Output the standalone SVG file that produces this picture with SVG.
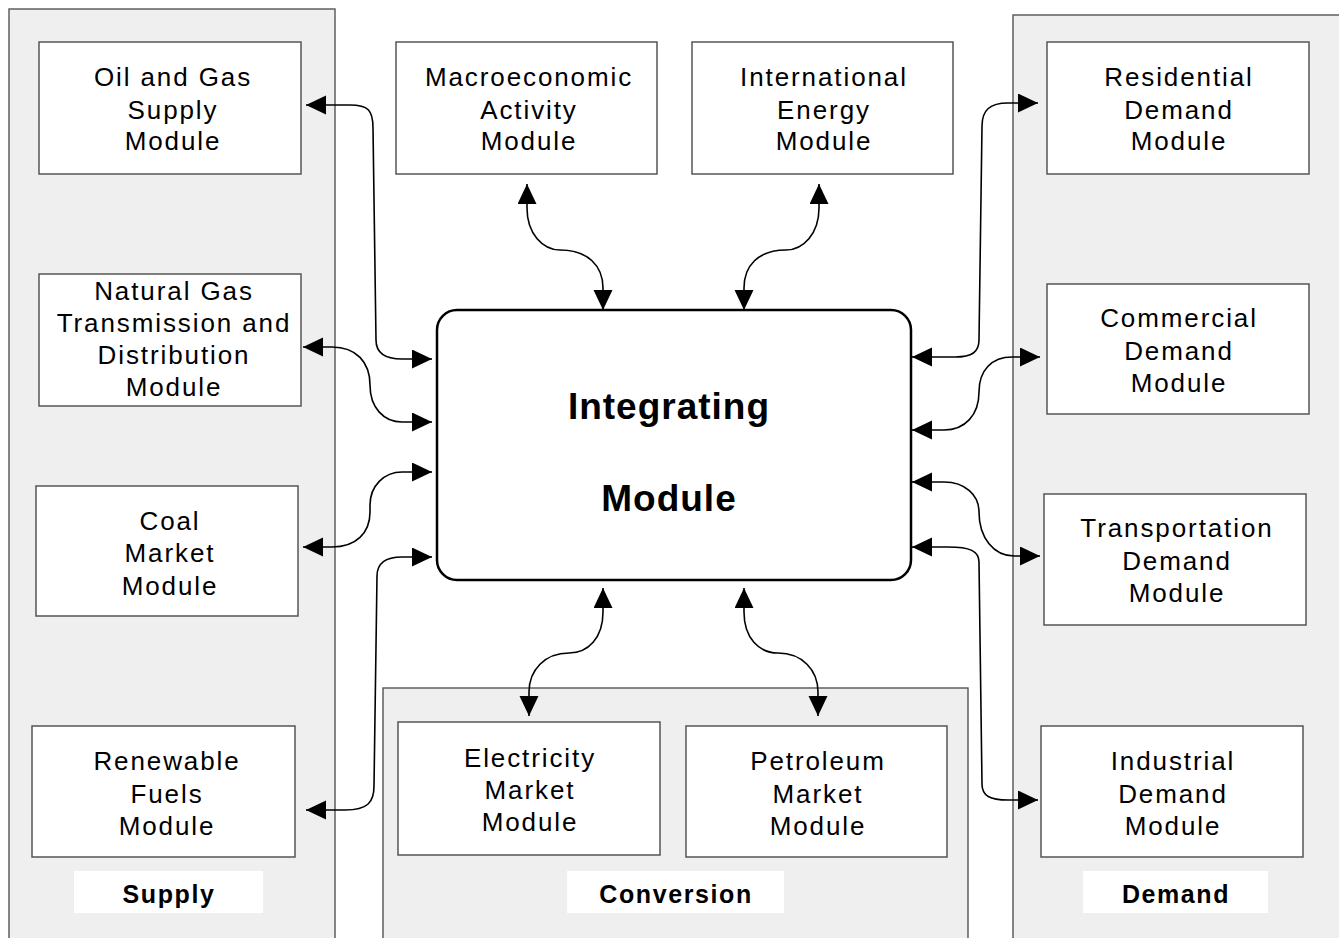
<svg xmlns="http://www.w3.org/2000/svg" width="1339" height="938" viewBox="0 0 1339 938">
  <style>
    .panel { fill: #efefef; stroke: #555; stroke-width: 1.4; }
    .box { fill: #fff; stroke: #555; stroke-width: 1.5; }
    .core { fill: #fff; stroke: #000; stroke-width: 2.5; }
    .tag { fill: #fff; stroke: none; }
    text { font-family: "Liberation Sans", Arial, sans-serif; fill: #000; text-anchor: middle; }
    .t { font-size: 26px; letter-spacing: 1.9px; }
    .lbl { font-size: 25px; font-weight: bold; letter-spacing: 1.6px; }
    .big { font-size: 37px; font-weight: bold; letter-spacing: 1px; }
    .link { fill: none; stroke: #000; stroke-width: 1.6; marker-start: url(#ah); marker-end: url(#ah); }
  </style>
  <defs>
    <marker id="ah" markerUnits="userSpaceOnUse" markerWidth="22" markerHeight="20" refX="21" refY="9.5" orient="auto-start-reverse">
      <path d="M1,0 L21,9.5 L1,19 z" fill="#000"/>
    </marker>
  </defs>

  <rect width="1339" height="938" fill="#fff"/>

  <!-- sector panels -->
  <g id="panel-supply">
    <rect class="panel" x="9" y="9" width="326" height="945"/>
    <rect class="tag" x="74" y="871" width="189" height="42"/>
    <text class="lbl" x="169" y="903">Supply</text>
  </g>
  <g id="panel-conversion">
    <rect class="panel" x="383" y="688" width="585" height="260"/>
    <rect class="tag" x="567" y="871" width="217" height="42"/>
    <text class="lbl" x="676" y="903">Conversion</text>
  </g>
  <g id="panel-demand">
    <rect class="panel" x="1013" y="15" width="330" height="940"/>
    <rect class="tag" x="1083" y="871" width="185" height="42"/>
    <text class="lbl" x="1176" y="903">Demand</text>
  </g>

  <!-- supply modules -->
  <g id="oil-gas">
    <rect class="box" x="39" y="42" width="262" height="132"/>
    <text class="t" x="173" y="86">Oil and Gas</text>
    <text class="t" x="173" y="119">Supply</text>
    <text class="t" x="173" y="150">Module</text>
  </g>
  <g id="natural-gas">
    <rect class="box" x="39" y="274" width="262" height="132"/>
    <text class="t" x="174" y="300">Natural Gas</text>
    <text class="t" x="174" y="332">Transmission and</text>
    <text class="t" x="174" y="364">Distribution</text>
    <text class="t" x="174" y="396">Module</text>
  </g>
  <g id="coal">
    <rect class="box" x="36" y="486" width="262" height="130"/>
    <text class="t" x="170" y="530">Coal</text>
    <text class="t" x="170" y="562">Market</text>
    <text class="t" x="170" y="595">Module</text>
  </g>
  <g id="renewable">
    <rect class="box" x="32" y="726" width="263" height="131"/>
    <text class="t" x="167" y="770">Renewable</text>
    <text class="t" x="167" y="803">Fuels</text>
    <text class="t" x="167" y="835">Module</text>
  </g>

  <!-- external modules -->
  <g id="macro">
    <rect class="box" x="396" y="42" width="261" height="132"/>
    <text class="t" x="529" y="86">Macroeconomic</text>
    <text class="t" x="529" y="119">Activity</text>
    <text class="t" x="529" y="150">Module</text>
  </g>
  <g id="international">
    <rect class="box" x="692" y="42" width="261" height="132"/>
    <text class="t" x="824" y="86">International</text>
    <text class="t" x="824" y="119">Energy</text>
    <text class="t" x="824" y="150">Module</text>
  </g>

  <!-- demand modules -->
  <g id="residential">
    <rect class="box" x="1047" y="42" width="262" height="132"/>
    <text class="t" x="1179" y="86">Residential</text>
    <text class="t" x="1179" y="119">Demand</text>
    <text class="t" x="1179" y="150">Module</text>
  </g>
  <g id="commercial">
    <rect class="box" x="1047" y="284" width="262" height="130"/>
    <text class="t" x="1179" y="327">Commercial</text>
    <text class="t" x="1179" y="360">Demand</text>
    <text class="t" x="1179" y="392">Module</text>
  </g>
  <g id="transportation">
    <rect class="box" x="1044" y="494" width="262" height="131"/>
    <text class="t" x="1177" y="537">Transportation</text>
    <text class="t" x="1177" y="570">Demand</text>
    <text class="t" x="1177" y="602">Module</text>
  </g>
  <g id="industrial">
    <rect class="box" x="1041" y="726" width="262" height="131"/>
    <text class="t" x="1173" y="770">Industrial</text>
    <text class="t" x="1173" y="803">Demand</text>
    <text class="t" x="1173" y="835">Module</text>
  </g>

  <!-- conversion modules -->
  <g id="electricity">
    <rect class="box" x="398" y="722" width="262" height="133"/>
    <text class="t" x="530" y="767">Electricity</text>
    <text class="t" x="530" y="799">Market</text>
    <text class="t" x="530" y="831">Module</text>
  </g>
  <g id="petroleum">
    <rect class="box" x="686" y="726" width="261" height="131"/>
    <text class="t" x="818" y="770">Petroleum</text>
    <text class="t" x="818" y="803">Market</text>
    <text class="t" x="818" y="835">Module</text>
  </g>

  <!-- central module -->
  <g id="integrating">
    <rect class="core" x="437" y="310" width="474" height="270" rx="20"/>
    <text class="big" x="669" y="419">Integrating</text>
    <text class="big" x="669" y="511">Module</text>
  </g>

  <!-- two-way data links -->
  <g id="connectors">
    <path class="link" d="M306,105 H350 C368,105 373,110 373,128 L376,340 C376,354 386,359 402,359 H432"/>
    <path class="link" d="M303,347 H332 C356,347 370,362 370,385 C370,408 384,422 402,422 H432"/>
    <path class="link" d="M303,547 H332 C356,547 370,533 370,512 L370,505 C370,486 384,472 402,472 H432"/>
    <path class="link" d="M306,810 H345 C368,810 374,802 374,786 L377,576 C377,563 386,557 402,557 H432"/>

    <path class="link" d="M527,184 V208 C527,234 543,250 560,250 C588,250 603,266 603,288 V310"/>
    <path class="link" d="M819,184 V208 C819,234 803,250 786,250 C758,250 744,266 744,288 V310"/>

    <path class="link" d="M1038,103 H1008 C990,103 982,110 982,126 L979,340 C979,352 972,357 955,357 H912"/>
    <path class="link" d="M1040,357 H1012 C992,357 979,370 979,392 C979,415 965,430 944,430 H912"/>
    <path class="link" d="M912,482 H944 C965,482 979,495 979,512 C979,538 994,556 1014,556 H1040"/>
    <path class="link" d="M912,547 H948 C970,547 979,551 979,562 L982,784 C982,796 990,800 1008,800 H1038"/>

    <path class="link" d="M603,588 V612 C603,638 588,653 569,653 C545,653 529,670 529,692 V716"/>
    <path class="link" d="M744,588 V612 C744,638 759,653 778,653 C802,653 818,670 818,692 V716"/>
  </g>
</svg>
